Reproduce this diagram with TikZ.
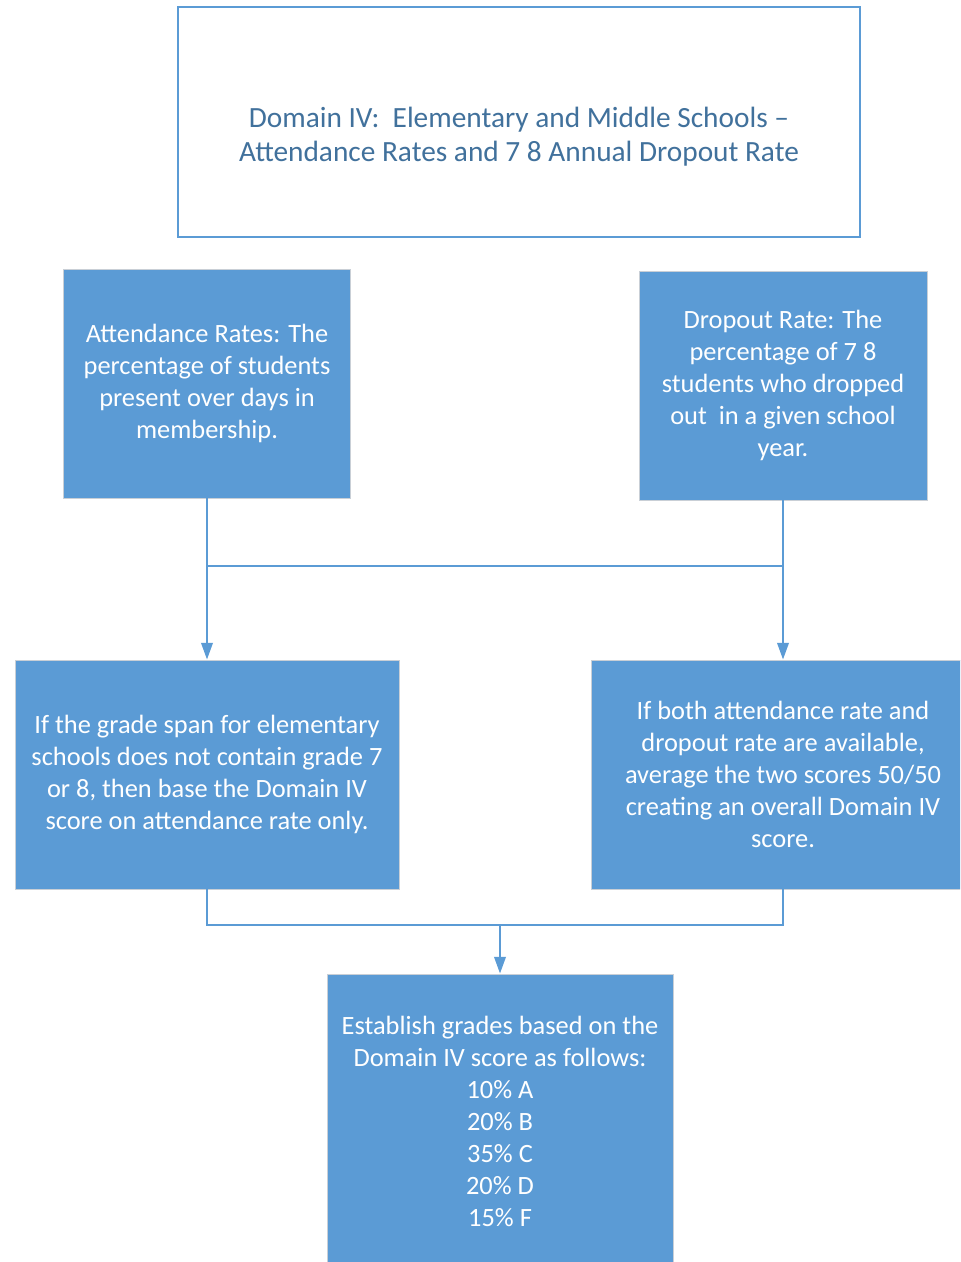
\documentclass[tikz,border=0pt]{standalone}
\usepackage{fontspec}
\setmainfont{Carlito}
\usetikzlibrary{arrows.meta}
\definecolor{boxblue}{HTML}{5B9BD5}
\definecolor{titleblue}{HTML}{41719C}
\definecolor{edgegray}{HTML}{C9CFD6}
\begin{document}
\begin{tikzpicture}[x=0.75pt,y=-0.75pt,
  bluebox/.style={rectangle, fill=boxblue, draw=edgegray, line width=0.6pt,
    text=white, align=center, inner sep=0pt,
    font=\fontsize{19.8}{24}\selectfont},
  titlebox/.style={rectangle, draw=boxblue, line width=1.5pt, fill=white,
    minimum width=511.5pt, minimum height=172.5pt, inner sep=0pt},
  titletext/.style={text=titleblue, align=center, inner sep=0pt,
    font=\fontsize{22}{25.5}\selectfont},
  link/.style={draw=boxblue, line width=1.8pt},
  arrowlink/.style={link, -{Triangle[length=12.5pt,width=8.5pt]}}
]
\useasboundingbox (0,0) rectangle (960,1262);
\clip (0,0) rectangle (960,1262);

\node[titlebox, label={[titletext, yshift=-11.25pt]center:{Domain IV:\ \ Elementary and Middle Schools --\\Attendance Rates and 7 8 Annual Dropout Rate}}] (title) at (519,122) {};

\node[bluebox, minimum width=215.25pt, minimum height=171.75pt] (att) at (207,383.5)
  {Attendance Rates: The\\percentage of students\\present over days in\\membership.};
\node[bluebox, minimum width=216pt, minimum height=171.75pt] (drop) at (783,385.5)
  {Dropout Rate: The\\percentage of 7 8\\students who dropped\\out\ \ in a given school\\year.};
\node[bluebox, minimum width=288pt, minimum height=171.75pt] (lb) at (207,774.5)
  {If the grade span for elementary\\schools does not contain grade 7\\or 8, then base the Domain IV\\score on attendance rate only.};
\node[bluebox, minimum width=288pt, minimum height=171.75pt] (rb) at (783,774.5)
  {If both attendance rate and\\dropout rate are available,\\average the two scores 50/50\\creating an overall Domain IV\\score.};
\node[bluebox, minimum width=259.5pt, minimum height=220.5pt] (final) at (500,1121)
  {Establish grades based on the\\Domain IV score as follows:\\10\% A\\20\% B\\35\% C\\20\% D\\15\% F};

\coordinate (j1) at (207,566);
\coordinate (j2) at (783,566);
\draw[link] (att.south) -- (j1) -- (j2) -- (drop.south);
\draw[arrowlink] (j1) -- (lb.north);
\draw[arrowlink] (j2) -- (rb.north);

\coordinate (j3) at (207,925);
\coordinate (j4) at (783,925);
\coordinate (j5) at (500,925);
\draw[link] (lb.south) -- (j3) -- (j4) -- (rb.south);
\draw[arrowlink] (j5) -- (final.north);
\end{tikzpicture}
\end{document}
